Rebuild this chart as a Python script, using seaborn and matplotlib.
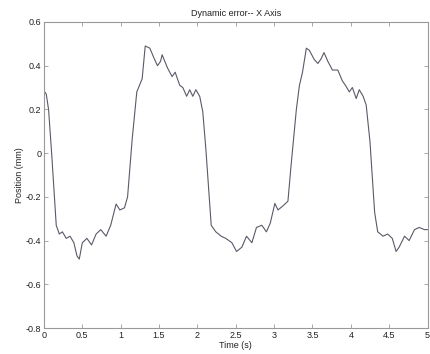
import matplotlib
matplotlib.use("Agg")
import matplotlib.pyplot as plt
import seaborn as sns
import pandas as pd

time_s = [0.00, 0.03, 0.06, 0.10, 0.16, 0.20, 0.24, 0.29, 0.34, 0.39, 0.43, 0.46, 0.50, 0.56,
          0.62, 0.68, 0.74, 0.81, 0.87, 0.94, 0.99, 1.05, 1.09, 1.15, 1.21, 1.28, 1.32,
          1.38, 1.44, 1.48, 1.52, 1.54, 1.61, 1.67, 1.71, 1.77, 1.81, 1.86, 1.90, 1.94,
          1.98, 2.03, 2.07, 2.11, 2.18, 2.24, 2.31, 2.37, 2.41, 2.45, 2.51, 2.58, 2.64,
          2.71, 2.77, 2.84, 2.90, 2.95, 3.01, 3.05, 3.12, 3.18, 3.22, 3.29, 3.33, 3.37,
          3.42, 3.46, 3.52, 3.57, 3.61, 3.65, 3.70, 3.76, 3.83, 3.89, 3.93, 3.98, 4.02,
          4.07, 4.11, 4.16, 4.20, 4.25, 4.31, 4.35, 4.42, 4.48, 4.54, 4.59, 4.63, 4.70,
          4.76, 4.83, 4.89, 4.96, 5.00]
position_mm = [0.285, 0.27, 0.20, 0.00, -0.33, -0.37, -0.36, -0.39, -0.38, -0.41, -0.47, -0.485, -0.41, -0.39,
               -0.42, -0.37, -0.35, -0.38, -0.33, -0.233, -0.26, -0.25, -0.20, 0.064, 0.28, 0.34, 0.49,
               0.48, 0.43, 0.40, 0.42, 0.45, 0.39, 0.35, 0.37, 0.31, 0.30, 0.26, 0.29, 0.26,
               0.29, 0.26, 0.19, 0.02, -0.33, -0.36, -0.38, -0.39, -0.40, -0.41, -0.45, -0.43, -0.38,
               -0.41, -0.34, -0.33, -0.36, -0.32, -0.23, -0.26, -0.24, -0.22, -0.06, 0.20, 0.31, 0.37,
               0.48, 0.47, 0.43, 0.41, 0.43, 0.46, 0.42, 0.38, 0.38, 0.33, 0.31, 0.28, 0.30,
               0.25, 0.29, 0.26, 0.22, 0.05, -0.27, -0.36, -0.38, -0.37, -0.39, -0.45, -0.43, -0.38,
               -0.40, -0.35, -0.34, -0.35, -0.35]

x_ticks = [0, 0.5, 1, 1.5, 2, 2.5, 3, 3.5, 4, 4.5, 5]
x_tick_labels = ["0", "0.5", "1", "1.5", "2", "2.5", "3", "3.5", "4", "4.5", "5"]
y_ticks = [-0.8, -0.6, -0.4, -0.2, 0, 0.2, 0.4, 0.6]
y_tick_labels = ["-0.8", "-0.6", "-0.4", "-0.2", "0", "0.2", "0.4", "0.6"]

df = pd.DataFrame({"t": time_s, "p": position_mm})

sns.set_style("white")
plt.rcParams['font.family'] = ['Liberation Sans', 'DejaVu Sans']

fig = plt.figure(figsize=(4.31, 3.54), dpi=100)
ax = fig.add_axes([0.102, 0.0734, 0.890, 0.8646])
sns.lineplot(data=df, x="t", y="p", ax=ax, color="#5a5a68", linewidth=0.8)

ax.set_xlim(0, 5)
ax.set_ylim(-0.8, 0.6)
ax.set_xticks(x_ticks)
ax.set_xticklabels(x_tick_labels)
ax.set_yticks(y_ticks)
ax.set_yticklabels(y_tick_labels)
ax.tick_params(direction="in", length=3, width=0.6, colors="#999999", labelcolor="#222222",
               labelsize=6.5, top=True, right=True, bottom=True, left=True, pad=2)
for s in ax.spines.values():
    s.set_color("#999999")
    s.set_linewidth(0.8)
ax.set_xlabel("Time (s)", fontsize=6.5, color="#222222", labelpad=1)
ax.set_ylabel("Position (mm)", fontsize=6.5, color="#222222", labelpad=1)
ax.set_title("Dynamic error-- X Axis", fontsize=6.5, color="#222222", pad=4)

fig.savefig("out.png", dpi=100)
